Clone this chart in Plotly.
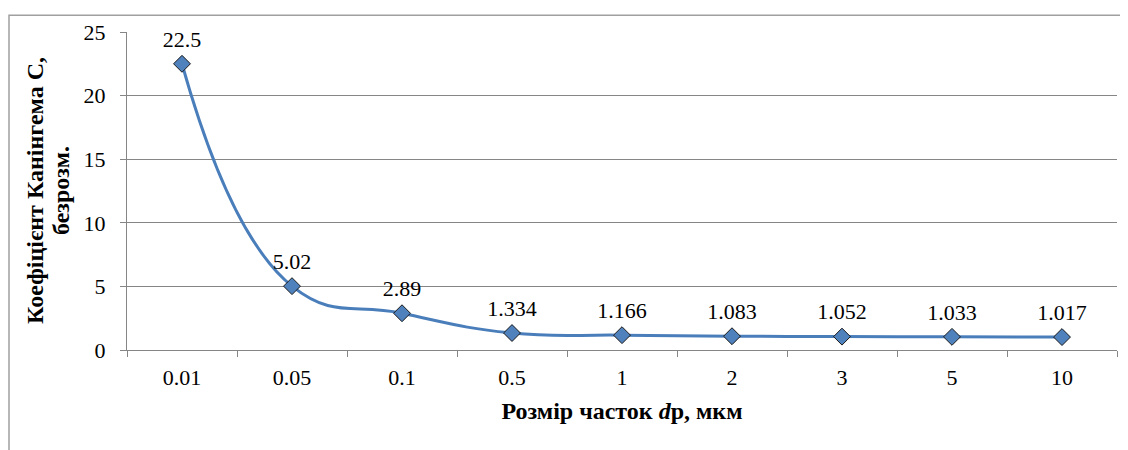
import plotly.graph_objects as go

categories = ["0.01", "0.05", "0.1", "0.5", "1", "2", "3", "5", "10"]
values = [22.5, 5.02, 2.89, 1.334, 1.166, 1.083, 1.052, 1.033, 1.017]
labels = ["22.5", "5.02", "2.89", "1.334", "1.166", "1.083", "1.052", "1.033", "1.017"]
x_title = "<b>Розмір часток <i>d</i>р, мкм</b>"
y_title_lines = ["<b>Коефіцієнт Канінгема С,</b>", "<b>безрозм.</b>"]

FONT = "'Liberation Serif', 'Times New Roman', serif"
W, H = 1128, 450
OFF = 8  # body margin of the page
L, R, T, B = 127 - OFF, 19, 29 - OFF, 108
pw, ph = W - L - R, H - T - B

fig = go.Figure()
fig.add_trace(go.Scatter(
    x=categories, y=values, mode="lines+markers",
    line=dict(color="#4A7EBB", width=3, shape="spline", smoothing=1.3),
    marker=dict(symbol="diamond", size=13, color="#4F81BD",
                line=dict(color="#1a1a1a", width=1)),
    cliponaxis=False, showlegend=False, hoverinfo="skip",
))
# data labels (invisible larger marker gives Excel-like label offset)
fig.add_trace(go.Scatter(
    x=categories, y=values, mode="markers+text",
    text=labels, textposition="top center",
    textfont=dict(family=FONT, size=22, color="black"),
    marker=dict(size=17, color="rgba(0,0,0,0)"),
    cliponaxis=False, showlegend=False,
))

fig.update_layout(
    width=W, height=H,
    margin=dict(l=L, r=R, t=T, b=B),
    paper_bgcolor="white", plot_bgcolor="white",
    font=dict(family=FONT, size=22, color="black"),
    xaxis=dict(
        type="category", showgrid=False, showline=True, linecolor="#868686",
        linewidth=1, ticks="outside", ticklen=6, tickcolor="#868686",
        tickson="boundaries", tickfont=dict(family=FONT, size=22),
        ticklabelstandoff=8,
        title=dict(text=x_title, font=dict(family=FONT, size=24), standoff=12),
        range=[-0.5, 8.5],
    ),
    yaxis=dict(
        range=[0, 25], dtick=5, showgrid=True, gridcolor="#868686", gridwidth=1,
        showline=True, linecolor="#868686", ticks="outside", ticklen=6,
        tickcolor="#868686", tickfont=dict(family=FONT, size=22), zeroline=False,
        ticklabelstandoff=10,
    ),
)

# y-axis title as two rotated lines (tight Excel line spacing)
for page_x, txt in zip([35, 61], y_title_lines):
    fig.add_annotation(
        text=txt, textangle=-90, showarrow=False,
        xref="paper", yref="paper", x=(page_x - OFF - L) / pw, y=0.5,
        xanchor="center", yanchor="middle",
        font=dict(family=FONT, size=24, color="black"),
    )

# outer chart-area border (Excel style)
x0 = (9 - OFF - L) / pw
y1 = 1 + (OFF + T - 12) / ph
fig.add_shape(type="rect", xref="paper", yref="paper",
              x0=x0, x1=1 + (R + 20) / pw, y0=-(B + 20) / ph, y1=y1,
              line=dict(color="#A0A0A0", width=1.5), layer="below")

fig.write_html("out.html")
